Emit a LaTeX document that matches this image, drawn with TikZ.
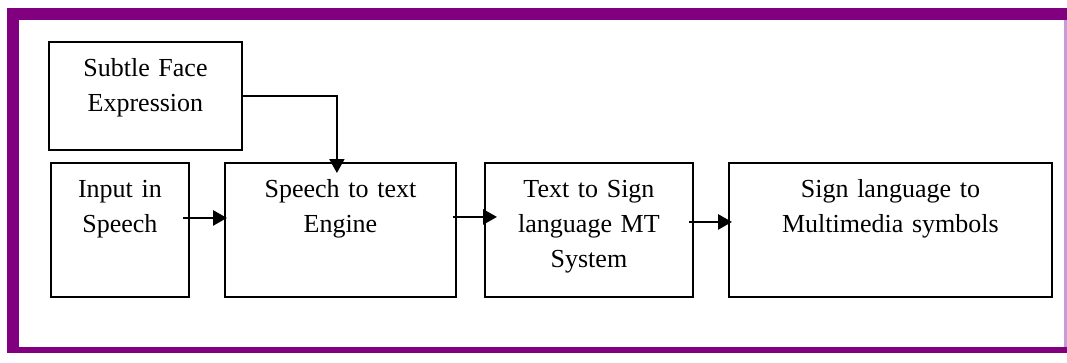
\documentclass[tikz,border=0pt]{standalone}
\usepackage{fontspec}
\setmainfont{Liberation Serif}
\usetikzlibrary{arrows.meta}
\definecolor{frame}{HTML}{800080}
\definecolor{framelight}{HTML}{C89BD6}
\tikzset{
  x=1pt, y=-1pt,
  box/.style={draw=black, line width=1.9pt, anchor=north west, inner xsep=2pt, inner ysep=0pt,
    align=center, font=\fontsize{26pt}{35pt}\selectfont, text height=35pt},
  arr/.style={line width=2.8pt, -{Triangle[length=14pt,width=15pt]}},
  thinarr/.style={line width=1.9pt, -{Triangle[length=14pt,width=15pt]}}
}
\begin{document}
\begin{tikzpicture}
\useasboundingbox (0,0) rectangle (1067,362);
% frame
\fill[white] (0,0) rectangle (1067,362);
\fill[framelight] (1064,20) rectangle (1067,347);
\fill[frame] (7,8) rectangle (1067,20);
\fill[frame] (7,8) rectangle (19,353);
\fill[frame] (7,347) rectangle (1067,353);
% boxes
\node[box, text width=189pt, text depth=73pt] (face) at (48,41) {Subtle Face\\Expression};
\node[box, text width=134pt, text depth=99pt] (inp) at (50,162) {Input in\\Speech};
\node[box, text width=227pt, text depth=99pt] (stt) at (224,162) {Speech to text\\Engine};
\node[box, text width=204pt, text depth=99pt] (tts) at (484,162) {Text to Sign\\language MT\\System};
\node[box, text width=319pt, text depth=99pt] (slm) at (728,162) {Sign language to\\Multimedia symbols};
% connectors
\draw[arr] ([shift={(-7pt,12pt)}]inp.east) -- ([shift={(3pt,12pt)}]stt.west);
\draw[arr] ([shift={(-4pt,13pt)}]stt.east) -- ([shift={(13pt,13pt)}]tts.west);
\draw[arr] ([shift={(-5pt,8pt)}]tts.east) -- ([shift={(4pt,8pt)}]slm.west);
\coordinate (bend) at ([xshift=94pt]face.east);
\draw[thinarr] (face.east) -- (bend) -- ([yshift=-11pt]bend |- stt.north);
\end{tikzpicture}
\end{document}
